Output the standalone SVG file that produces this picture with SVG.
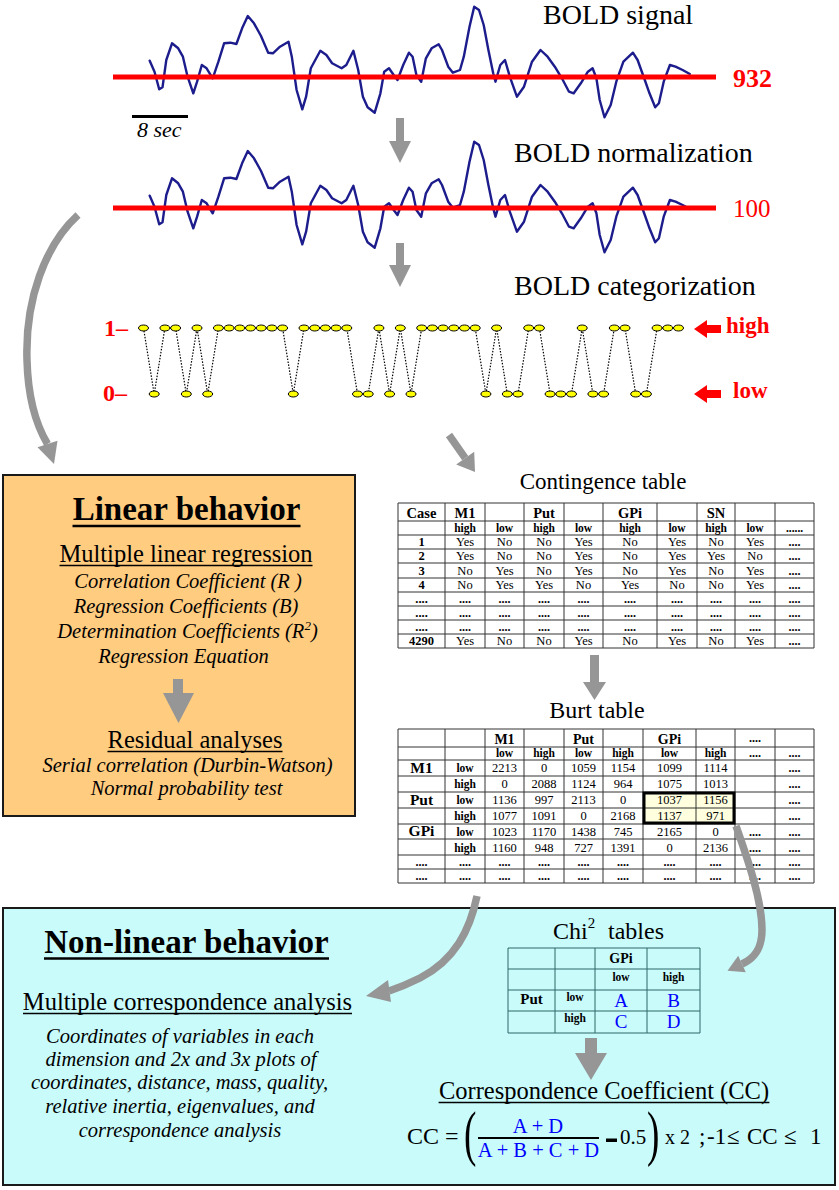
<svg xmlns="http://www.w3.org/2000/svg" width="839" height="1190" viewBox="0 0 839 1190">
<style>
text{font-family:"Liberation Serif","Times New Roman","DejaVu Serif",serif;fill:#000}
.b{font-weight:bold}
.i{font-style:italic}
.c{text-anchor:middle}
.red{fill:#FF0000}
.blue{fill:#0000FF}
.g line{stroke:#333;stroke-width:1}
.gc line{stroke:#2f6666;stroke-width:1}
.af{fill:#969696}
.as{fill:none;stroke:#969696;stroke-width:7.5}
.sig{fill:none;stroke:#1C1C8C;stroke-width:2.4;stroke-linejoin:round;stroke-linecap:round}
.base{stroke:#FF0000;stroke-width:5}
.dot{fill:#FFFF00;stroke:#000;stroke-width:1}
.ulb{stroke:#000;stroke-width:2.5}
.ul{stroke:#000;stroke-width:1.4}
</style>
<defs>
<polyline id="sig" class="sig" points="149.7,60.7 154.5,71.7 159.2,89.3 162.5,87.3 166.3,60 172,43.3 178.2,48.3 182.9,56.7 187.6,76.7 193.3,93.3 197.1,81.7 201.8,65 206.6,68.3 212.7,78.3 218.4,61.7 224.1,43.3 230.3,42.7 236.4,44 242.1,28.3 247.8,16 254,23.3 261,36 268.2,52.7 272.9,53.3 280,46.7 288.5,41.7 291.8,56.7 296.6,90 302.3,109.3 306.1,96.7 310.8,68.3 320.3,50.7 326.4,55 332.1,63.3 341.6,68.3 346.3,65 353.4,50.7 358.2,70 362.9,96.7 367.6,107.3 374.7,112.7 380.4,93.3 384.2,71.7 389,68.3 393.7,75 397.5,80 403.2,65 408.9,52.7 412.6,56.7 416.4,75 421.2,81.7 425.9,58.3 431.6,48.3 438.7,44.3 442,50 448.2,66.7 452.9,72.7 460,70 463.8,56.7 469.5,26.7 474.2,6.7 479,10 483.7,25 488.4,50 493.2,73.3 495.5,81.7 500.3,65 505,60 509.8,76.7 516.9,96.7 524,86.7 532,61.7 540.5,50 547.6,56.7 554.8,66.7 561.9,78.3 569,91.7 573.7,93.3 580.8,83.3 587.9,71.7 592.6,68.3 596.4,78.3 599.7,100 604.5,117.3 610.7,105 616.3,81.7 623.4,61.7 632.9,52.7 637.6,60 644.8,80 649.5,93.3 655.2,107.3 658.9,103.3 663.7,81.7 669.9,65 675.5,66.7 682.6,70 689.8,74"/>
</defs>
<rect width="839" height="1190" fill="#fff"/>

<g id="bold-signal">
<text x="543" y="24" font-size="28">BOLD signal</text>
<use href="#sig"/>
<line class="base" x1="113" y1="77" x2="716" y2="77"/>
<text class="b red" x="733" y="87" font-size="26">932</text>
<line x1="132" y1="116.5" x2="188" y2="116.5" stroke="#000" stroke-width="3"/>
<text class="i" x="137" y="137" font-size="22">8 sec</text>
</g>

<g id="bold-normalization">
<text x="514" y="162" font-size="28">BOLD normalization</text>
<use href="#sig" transform="translate(0,135)"/>
<line class="base" x1="113" y1="208" x2="716" y2="208"/>
<text class="red" x="733" y="217" font-size="25">100</text>
</g>

<g id="bold-categorization">
<text x="514" y="295" font-size="28">BOLD categorization</text>
<text class="b red" x="104" y="336" font-size="24">1–</text>
<text class="b red" x="103" y="401" font-size="24">0–</text>
<polyline fill="none" stroke="#000" stroke-width="1.2" stroke-dasharray="1.5 1.5" points="143.5,328 154.2,394 164.9,328 175.6,328 186.3,394 197,328 207.7,394 218.4,328 229.1,328 239.8,328 250.5,328 261.2,328 271.9,328 282.6,328 293.3,394 304,328 314.7,328 325.4,328 336.1,328 346.8,328 357.5,394 368.2,394 378.9,328 389.6,394 400.3,328 411,394 421.7,328 432.4,328 443.1,328 453.8,328 464.5,328 475.2,328 485.9,394 496.6,328 507.3,394 518,394 528.7,328 539.4,328 550.1,394 560.8,394 571.5,394 582.2,328 592.9,394 603.6,394 614.3,328 625,328 635.7,394 646.4,394 657.1,328 667.8,328 678.5,328"/>
<g class="dot">
<ellipse cx="143.5" cy="328" rx="5" ry="3"/><ellipse cx="154.2" cy="394" rx="5" ry="3"/><ellipse cx="164.9" cy="328" rx="5" ry="3"/><ellipse cx="175.6" cy="328" rx="5" ry="3"/><ellipse cx="186.3" cy="394" rx="5" ry="3"/><ellipse cx="197" cy="328" rx="5" ry="3"/><ellipse cx="207.7" cy="394" rx="5" ry="3"/><ellipse cx="218.4" cy="328" rx="5" ry="3"/><ellipse cx="229.1" cy="328" rx="5" ry="3"/><ellipse cx="239.8" cy="328" rx="5" ry="3"/><ellipse cx="250.5" cy="328" rx="5" ry="3"/><ellipse cx="261.2" cy="328" rx="5" ry="3"/><ellipse cx="271.9" cy="328" rx="5" ry="3"/><ellipse cx="282.6" cy="328" rx="5" ry="3"/><ellipse cx="293.3" cy="394" rx="5" ry="3"/><ellipse cx="304" cy="328" rx="5" ry="3"/><ellipse cx="314.7" cy="328" rx="5" ry="3"/><ellipse cx="325.4" cy="328" rx="5" ry="3"/><ellipse cx="336.1" cy="328" rx="5" ry="3"/><ellipse cx="346.8" cy="328" rx="5" ry="3"/><ellipse cx="357.5" cy="394" rx="5" ry="3"/><ellipse cx="368.2" cy="394" rx="5" ry="3"/><ellipse cx="378.9" cy="328" rx="5" ry="3"/><ellipse cx="389.6" cy="394" rx="5" ry="3"/><ellipse cx="400.3" cy="328" rx="5" ry="3"/><ellipse cx="411" cy="394" rx="5" ry="3"/><ellipse cx="421.7" cy="328" rx="5" ry="3"/><ellipse cx="432.4" cy="328" rx="5" ry="3"/><ellipse cx="443.1" cy="328" rx="5" ry="3"/><ellipse cx="453.8" cy="328" rx="5" ry="3"/><ellipse cx="464.5" cy="328" rx="5" ry="3"/><ellipse cx="475.2" cy="328" rx="5" ry="3"/><ellipse cx="485.9" cy="394" rx="5" ry="3"/><ellipse cx="496.6" cy="328" rx="5" ry="3"/><ellipse cx="507.3" cy="394" rx="5" ry="3"/><ellipse cx="518" cy="394" rx="5" ry="3"/><ellipse cx="528.7" cy="328" rx="5" ry="3"/><ellipse cx="539.4" cy="328" rx="5" ry="3"/><ellipse cx="550.1" cy="394" rx="5" ry="3"/><ellipse cx="560.8" cy="394" rx="5" ry="3"/><ellipse cx="571.5" cy="394" rx="5" ry="3"/><ellipse cx="582.2" cy="328" rx="5" ry="3"/><ellipse cx="592.9" cy="394" rx="5" ry="3"/><ellipse cx="603.6" cy="394" rx="5" ry="3"/><ellipse cx="614.3" cy="328" rx="5" ry="3"/><ellipse cx="625" cy="328" rx="5" ry="3"/><ellipse cx="635.7" cy="394" rx="5" ry="3"/><ellipse cx="646.4" cy="394" rx="5" ry="3"/><ellipse cx="657.1" cy="328" rx="5" ry="3"/><ellipse cx="667.8" cy="328" rx="5" ry="3"/><ellipse cx="678.5" cy="328" rx="5" ry="3"/>
</g>
<polygon fill="#FF0000" points="694,329 707,320 707,325 721,325 721,333 707,333 707,338"/>
<polygon fill="#FF0000" points="694,394 707,385 707,390 721,390 721,398 707,398 707,403"/>
<text class="b red" x="726" y="333" font-size="23">high</text>
<text class="b red" x="733" y="398" font-size="23">low</text>
</g>

<g id="linear-behavior">
<rect x="3" y="475" width="352" height="341" fill="#FFCC80" stroke="#1a1a1a" stroke-width="2"/>
<text class="b c" x="186.5" y="520" font-size="33">Linear behavior</text>
<line class="ulb" x1="72.5" y1="526" x2="300.5" y2="526"/>
<text class="c" x="186" y="562" font-size="24.5">Multiple linear regression</text>
<line class="ul" x1="59.5" y1="565.5" x2="312.5" y2="565.5"/>
<text class="i c" x="188" y="588" font-size="20.5">Correlation Coefficient (R )</text>
<text class="i c" x="186" y="613" font-size="20.5">Regression Coefficients (B)</text>
<text class="i c" x="187.5" y="638" font-size="20.5">Determination Coefficients (R<tspan font-size="13" dy="-8">2</tspan><tspan dy="8">)</tspan></text>
<text class="i c" x="183.5" y="663" font-size="20.5">Regression Equation</text>
<text class="c" x="195" y="748" font-size="24.5">Residual analyses</text>
<line class="ul" x1="107.5" y1="751.5" x2="282.5" y2="751.5"/>
<text class="i c" x="187.5" y="772" font-size="20.5">Serial correlation (Durbin-Watson)</text>
<text class="i c" x="186.5" y="795" font-size="20.5">Normal probability test</text>
</g>

<g id="non-linear-behavior">
<rect x="3" y="908" width="832" height="277" fill="#C9FBFB" stroke="#1a1a1a" stroke-width="2"/>
<text class="b c" x="186.5" y="953" font-size="33">Non-linear behavior</text>
<line class="ulb" x1="44" y1="958.5" x2="329" y2="958.5"/>
<text class="c" x="187.5" y="1010" font-size="24.5">Multiple correspondence analysis</text>
<line class="ul" x1="23" y1="1013.5" x2="352" y2="1013.5"/>
<text class="i c" x="180" y="1043" font-size="20.5">Coordinates of variables in each</text>
<text class="i c" x="181" y="1066" font-size="20.5">dimension and 2x and 3x plots of</text>
<text class="i c" x="179.5" y="1089" font-size="20.5">coordinates, distance, mass, quality,</text>
<text class="i c" x="180" y="1113" font-size="20.5">relative inertia, eigenvalues, and</text>
<text class="i c" x="180" y="1137" font-size="20.5">correspondence analysis</text>
</g>

<g id="contingence-table">
<text class="c" x="603" y="489" font-size="23">Contingence table</text>
<rect x="398" y="503" width="416" height="145" fill="#fff"/>
<g class="g">
<line x1="398" y1="503" x2="814" y2="503"/><line x1="398" y1="521" x2="814" y2="521"/><line x1="398" y1="535" x2="814" y2="535"/><line x1="398" y1="549" x2="814" y2="549"/><line x1="398" y1="563" x2="814" y2="563"/><line x1="398" y1="578" x2="814" y2="578"/><line x1="398" y1="592" x2="814" y2="592"/><line x1="398" y1="606" x2="814" y2="606"/><line x1="398" y1="620" x2="814" y2="620"/><line x1="398" y1="634" x2="814" y2="634"/><line x1="398" y1="648" x2="814" y2="648"/>
<line x1="398" y1="503" x2="398" y2="648"/><line x1="445" y1="503" x2="445" y2="648"/><line x1="485" y1="503" x2="485" y2="648"/><line x1="524" y1="503" x2="524" y2="648"/><line x1="564" y1="503" x2="564" y2="648"/><line x1="603" y1="503" x2="603" y2="648"/><line x1="657" y1="503" x2="657" y2="648"/><line x1="697" y1="503" x2="697" y2="648"/><line x1="735" y1="503" x2="735" y2="648"/><line x1="775" y1="503" x2="775" y2="648"/><line x1="814" y1="503" x2="814" y2="648"/>
</g>
<text class="b c" y="517.5" font-size="14.5"><tspan x="421.5">Case</tspan><tspan x="465">M1</tspan><tspan x="544">Put</tspan><tspan x="630">GPi</tspan><tspan x="716">SN</tspan></text>
<text class="b c" y="531.5" font-size="11.5"><tspan x="465">high</tspan><tspan x="504.5">low</tspan><tspan x="544">high</tspan><tspan x="583.5">low</tspan><tspan x="630">high</tspan><tspan x="677">low</tspan><tspan x="716">high</tspan><tspan x="755">low</tspan><tspan x="794.5">......</tspan></text>
<text class="b c" font-size="12.5"><tspan x="421.5" y="545.5">1</tspan><tspan x="421.5" y="559.5">2</tspan><tspan x="421.5" y="574.5">3</tspan><tspan x="421.5" y="588.5">4</tspan><tspan x="421.5" y="602.5">....</tspan><tspan x="421.5" y="616.5">....</tspan><tspan x="421.5" y="630.5">....</tspan><tspan x="421.5" y="644.5">4290</tspan></text>
<text class="c" y="545.5" font-size="12.5"><tspan x="465">Yes</tspan><tspan x="504.5">No</tspan><tspan x="544">No</tspan><tspan x="583.5">Yes</tspan><tspan x="630">No</tspan><tspan x="677">Yes</tspan><tspan x="716">No</tspan><tspan x="755">Yes</tspan></text>
<text class="c" y="559.5" font-size="12.5"><tspan x="465">Yes</tspan><tspan x="504.5">No</tspan><tspan x="544">No</tspan><tspan x="583.5">Yes</tspan><tspan x="630">No</tspan><tspan x="677">Yes</tspan><tspan x="716">Yes</tspan><tspan x="755">No</tspan></text>
<text class="c" y="574.5" font-size="12.5"><tspan x="465">No</tspan><tspan x="504.5">Yes</tspan><tspan x="544">No</tspan><tspan x="583.5">Yes</tspan><tspan x="630">No</tspan><tspan x="677">Yes</tspan><tspan x="716">No</tspan><tspan x="755">Yes</tspan></text>
<text class="c" y="588.5" font-size="12.5"><tspan x="465">No</tspan><tspan x="504.5">Yes</tspan><tspan x="544">Yes</tspan><tspan x="583.5">No</tspan><tspan x="630">Yes</tspan><tspan x="677">No</tspan><tspan x="716">No</tspan><tspan x="755">Yes</tspan></text>
<text class="c" y="644.5" font-size="12.5"><tspan x="465">Yes</tspan><tspan x="504.5">No</tspan><tspan x="544">No</tspan><tspan x="583.5">Yes</tspan><tspan x="630">No</tspan><tspan x="677">Yes</tspan><tspan x="716">No</tspan><tspan x="755">Yes</tspan></text>
<text class="b c" font-size="12"><tspan x="794.5" y="545.5">....</tspan><tspan x="794.5" y="559.5">....</tspan><tspan x="794.5" y="574.5">....</tspan><tspan x="794.5" y="588.5">....</tspan><tspan x="794.5" y="644.5">....</tspan></text>
<text class="b c" y="602.5" font-size="12"><tspan x="465">....</tspan><tspan x="504.5">....</tspan><tspan x="544">....</tspan><tspan x="583.5">....</tspan><tspan x="630">....</tspan><tspan x="677">....</tspan><tspan x="716">....</tspan><tspan x="755">....</tspan><tspan x="794.5">....</tspan></text>
<text class="b c" y="616.5" font-size="12"><tspan x="465">....</tspan><tspan x="504.5">....</tspan><tspan x="544">....</tspan><tspan x="583.5">....</tspan><tspan x="630">....</tspan><tspan x="677">....</tspan><tspan x="716">....</tspan><tspan x="755">....</tspan><tspan x="794.5">....</tspan></text>
<text class="b c" y="630.5" font-size="12"><tspan x="465">....</tspan><tspan x="504.5">....</tspan><tspan x="544">....</tspan><tspan x="583.5">....</tspan><tspan x="630">....</tspan><tspan x="677">....</tspan><tspan x="716">....</tspan><tspan x="755">....</tspan><tspan x="794.5">....</tspan></text>
</g>

<g id="burt-table">
<text class="c" x="597" y="718" font-size="24">Burt table</text>
<rect x="398" y="729" width="416" height="154" fill="#fff"/>
<rect x="643" y="792" width="92" height="32" fill="#FFFFE0"/>
<g class="g">
<line x1="398" y1="729" x2="814" y2="729"/><line x1="398" y1="747" x2="814" y2="747"/><line x1="398" y1="760" x2="814" y2="760"/><line x1="398" y1="776" x2="814" y2="776"/><line x1="398" y1="792" x2="814" y2="792"/><line x1="398" y1="808" x2="814" y2="808"/><line x1="398" y1="824" x2="814" y2="824"/><line x1="398" y1="839" x2="814" y2="839"/><line x1="398" y1="855" x2="814" y2="855"/><line x1="398" y1="869" x2="814" y2="869"/><line x1="398" y1="883" x2="814" y2="883"/>
<line x1="398" y1="729" x2="398" y2="883"/><line x1="445" y1="729" x2="445" y2="883"/><line x1="485" y1="729" x2="485" y2="883"/><line x1="524" y1="729" x2="524" y2="883"/><line x1="564" y1="729" x2="564" y2="883"/><line x1="603" y1="729" x2="603" y2="883"/><line x1="643" y1="729" x2="643" y2="883"/><line x1="696" y1="729" x2="696" y2="883"/><line x1="735" y1="729" x2="735" y2="883"/><line x1="775" y1="729" x2="775" y2="883"/><line x1="814" y1="729" x2="814" y2="883"/>
</g>
<text class="b c" y="743.5" font-size="14"><tspan x="504.5">M1</tspan><tspan x="583.5">Put</tspan><tspan x="669.5">GPi</tspan></text>
<text class="b c" x="755" y="742" font-size="12">....</text>
<text class="b c" y="756.5" font-size="11.5"><tspan x="504.5">low</tspan><tspan x="544">high</tspan><tspan x="583.5">low</tspan><tspan x="623">high</tspan><tspan x="669.5">low</tspan><tspan x="715.5">high</tspan></text>
<text class="b c" y="756.5" font-size="12"><tspan x="755">....</tspan><tspan x="794.5">....</tspan></text>
<text class="b c" font-size="15.5"><tspan x="421.5" y="773">M1</tspan><tspan x="421.5" y="805">Put</tspan><tspan x="421.5" y="836">GPi</tspan></text>
<text class="b c" font-size="11.5"><tspan x="465" y="772">low</tspan><tspan x="465" y="788">high</tspan><tspan x="465" y="804">low</tspan><tspan x="465" y="820">high</tspan><tspan x="465" y="835.5">low</tspan><tspan x="465" y="851.5">high</tspan></text>
<text class="c" y="772" font-size="12.5"><tspan x="504.5">2213</tspan><tspan x="544">0</tspan><tspan x="583.5">1059</tspan><tspan x="623">1154</tspan><tspan x="669.5">1099</tspan><tspan x="715.5">1114</tspan></text>
<text class="c" y="788" font-size="12.5"><tspan x="504.5">0</tspan><tspan x="544">2088</tspan><tspan x="583.5">1124</tspan><tspan x="623">964</tspan><tspan x="669.5">1075</tspan><tspan x="715.5">1013</tspan></text>
<text class="c" y="804" font-size="12.5"><tspan x="504.5">1136</tspan><tspan x="544">997</tspan><tspan x="583.5">2113</tspan><tspan x="623">0</tspan><tspan x="669.5">1037</tspan><tspan x="715.5">1156</tspan></text>
<text class="c" y="820" font-size="12.5"><tspan x="504.5">1077</tspan><tspan x="544">1091</tspan><tspan x="583.5">0</tspan><tspan x="623">2168</tspan><tspan x="669.5">1137</tspan><tspan x="715.5">971</tspan></text>
<text class="c" y="835.5" font-size="12.5"><tspan x="504.5">1023</tspan><tspan x="544">1170</tspan><tspan x="583.5">1438</tspan><tspan x="623">745</tspan><tspan x="669.5">2165</tspan><tspan x="715.5">0</tspan></text>
<text class="c" y="851.5" font-size="12.5"><tspan x="504.5">1160</tspan><tspan x="544">948</tspan><tspan x="583.5">727</tspan><tspan x="623">1391</tspan><tspan x="669.5">0</tspan><tspan x="715.5">2136</tspan></text>
<text class="b c" font-size="12"><tspan x="794.5" y="772">....</tspan><tspan x="794.5" y="788">....</tspan><tspan x="794.5" y="804">....</tspan><tspan x="794.5" y="820">....</tspan><tspan x="755" y="835.5">....</tspan><tspan x="794.5" y="835.5">....</tspan><tspan x="755" y="851.5">....</tspan><tspan x="794.5" y="851.5">....</tspan></text>
<text class="b c" y="865.5" font-size="12"><tspan x="421.5">....</tspan><tspan x="465">....</tspan><tspan x="504.5">....</tspan><tspan x="544">....</tspan><tspan x="583.5">....</tspan><tspan x="623">....</tspan><tspan x="669.5">....</tspan><tspan x="715.5">....</tspan><tspan x="755">....</tspan><tspan x="794.5">....</tspan></text>
<text class="b c" y="879.5" font-size="12"><tspan x="421.5">....</tspan><tspan x="465">....</tspan><tspan x="504.5">....</tspan><tspan x="544">....</tspan><tspan x="583.5">....</tspan><tspan x="623">....</tspan><tspan x="669.5">....</tspan><tspan x="715.5">....</tspan><tspan x="755">....</tspan><tspan x="794.5">....</tspan></text>
<rect x="644" y="793" width="90" height="30" fill="none" stroke="#000" stroke-width="3"/>
</g>

<g id="chi2-tables">
<text x="553" y="939" font-size="24">Chi<tspan font-size="15" dy="-11">2</tspan><tspan x="608" dy="11">tables</tspan></text>
<g class="gc">
<line x1="508" y1="948" x2="700" y2="948"/><line x1="508" y1="969" x2="700" y2="969"/><line x1="508" y1="990" x2="700" y2="990"/><line x1="508" y1="1011" x2="700" y2="1011"/><line x1="508" y1="1033" x2="700" y2="1033"/>
<line x1="508" y1="948" x2="508" y2="1033"/><line x1="555" y1="948" x2="555" y2="1033"/><line x1="595" y1="948" x2="595" y2="1033"/><line x1="647" y1="948" x2="647" y2="1033"/><line x1="700" y1="948" x2="700" y2="1033"/>
</g>
<text class="b c" x="621" y="963" font-size="14">GPi</text>
<text class="b c" y="981" font-size="11.5"><tspan x="621">low</tspan><tspan x="673.5">high</tspan></text>
<text class="b c" x="531.5" y="1004" font-size="15">Put</text>
<text class="b c" font-size="11.5"><tspan x="575" y="1001">low</tspan><tspan x="575" y="1022">high</tspan></text>
<text class="c blue" font-size="19"><tspan x="621" y="1007">A</tspan><tspan x="673.5" y="1007">B</tspan><tspan x="621" y="1028">C</tspan><tspan x="673.5" y="1028">D</tspan></text>
</g>

<g id="correspondence-coefficient">
<text class="c" x="604" y="1099" font-size="24.5">Correspondence Coefficient (CC)</text>
<line class="ul" x1="438.6" y1="1102.5" x2="769.4" y2="1102.5"/>
<text x="407" y="1144" font-size="24">CC =</text>
<text x="464" y="1154" font-size="62" transform="translate(464,0) scale(0.6,1) translate(-464,0)">(</text>
<text class="c blue" x="538" y="1133" font-size="20.5">A + D</text>
<line x1="478" y1="1138" x2="599" y2="1138" stroke="#000" stroke-width="2"/>
<text class="c blue" x="538.5" y="1157" font-size="20.5">A + B + C + D</text>
<rect x="606" y="1138.5" width="11" height="3.5" fill="#000"/>
<text x="620" y="1144" font-size="21">0.5</text>
<text x="647" y="1154" font-size="62" transform="translate(647,0) scale(0.6,1) translate(-647,0)">)</text>
<text x="665" y="1144" font-size="20">x 2</text>
<text y="1144" font-size="23"><tspan x="699">;</tspan><tspan x="707">-1</tspan><tspan x="727">≤</tspan><tspan x="747">CC</tspan><tspan x="784">≤</tspan><tspan x="810">1</tspan></text>
</g>

<g id="connectors">
<polygon class="af" points="396,118 404,118 404,141 411,141 400,163 389,141 396,141"/>
<polygon class="af" points="396,243 404,243 404,265 411,265 400,287 389,265 396,265"/>
<path class="as" d="M 78 215 C 45 245, 25 300, 27 360 C 28 400, 38 428, 47.5 444"/>
<polygon class="af" points="54,464 37.5,447.2 57.5,440.8"/>
<line x1="449" y1="435" x2="465.2" y2="458.1" stroke="#969696" stroke-width="7.5"/>
<polygon class="af" points="475,472 474.2,451.8 456.2,464.4"/>
<polygon class="af" points="590,655 599,655 599,682 606,682 594.5,700 583,682 590,682"/>
<polygon class="af" points="173,679 183,679 183,693 194,693 178.5,723 163,693 173,693"/>
<polygon class="af" points="585,1038 597,1038 597,1053 607,1053 591,1080 575,1053 585,1053"/>
<path class="as" d="M 736 826 C 748 860, 762 900, 762 930 C 762 948, 755 958, 742 964"/>
<polygon class="af" points="727.5,970.7 745.8,972.2 738.2,955.8"/>
<path class="as" d="M 477 896 C 470 930, 455 960, 420 978 C 408 984, 398 988, 389 991"/>
<polygon class="af" points="366,996 388,980 391,1002"/>
</g>
</svg>
